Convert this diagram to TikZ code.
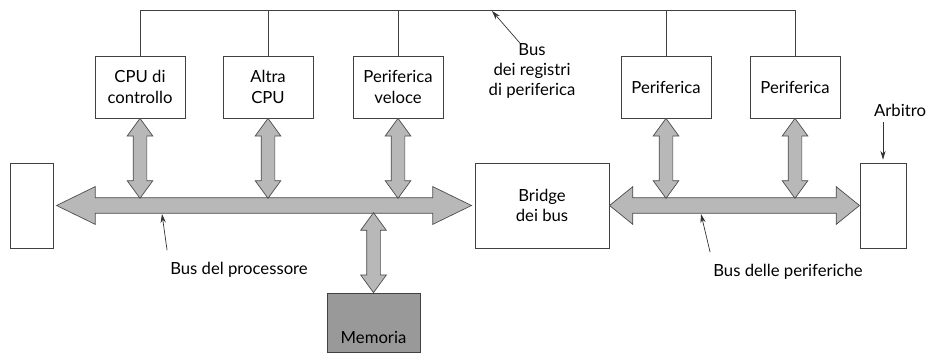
\documentclass[tikz,border=0pt]{standalone}
\usepackage{fontspec}
\setmainfont{Lato}
\usetikzlibrary{shapes.arrows,arrows.meta,calc}
\begin{document}
\begin{tikzpicture}[x=0.02cm, y=-0.02cm,
    font=\fontsize{9.5}{11.5}\selectfont,
    box/.style={draw=black!75, fill=white, minimum width=1.8cm, minimum height=1.24cm, align=center, inner sep=1pt},
    tall/.style={draw=black!75, minimum height=1.7cm},
    bus/.style={double arrow, draw=black!70, fill=black!28, inner sep=0pt, inner ysep=0.15cm, double arrow head extend=0.22cm},
    link/.style={double arrow, draw=black!70, fill=black!28, inner sep=0pt, inner ysep=0.13cm, double arrow head extend=0.12cm, double arrow tip angle=72, rotate=90, minimum height=1.6cm},
    pointer/.style={draw=black!80, thin, -{Stealth[length=5pt,width=3pt]}}]
    \useasboundingbox (0,0) rectangle (935,354);
    \node[box] (cpu) at (140,87) {CPU di\\controllo};
    \node[box] (altra) at (268,87) {Altra\\CPU};
    \node[box] (veloce) at (398,87) {Periferica\\veloce};
    \node[box] (per1) at (666,87) {Periferica};
    \node[box] (per2) at (795,87) {Periferica};
    \node[tall, minimum width=0.86cm] (left) at (31.5,205.5) {};
    \node[tall, minimum width=2.68cm, align=center] (bridge) at (542,205.5) {Bridge\\dei bus};
    \node[tall, minimum width=0.92cm] (arb) at (883,205.5) {};
    \node[draw=black!75, fill=black!40, minimum width=1.86cm, minimum height=1.18cm] (mem) at (373.5,322.5) {};
    \node (memtxt) at (373.5,337) {Memoria};
    \coordinate (top) at (0,10);
    \draw[black!75] (cpu.north) |- (top -| per2.north) -- (per2.north);
    \foreach \n in {altra,veloce,per1}
        \draw[black!75] (\n.north) -- (\n.north |- top);
    \node[bus, minimum height=8.3cm, double arrow tip angle=52] (pbus) at ($(left.east)!0.5!(bridge.west)$) {};
    \node[bus, minimum height=5cm, double arrow tip angle=78] (sbus) at ($(bridge.east)!0.5!(arb.west)$) {};
    \foreach \n in {cpu,altra,veloce,per1,per2}
        \node[link] (l-\n) at ($(\n.south)+(0,40)$) {};
    \node[link] (l-mem) at ($(mem.north)+(0,-40)$) {};
    \node[align=center] (lblreg) at (532,71) {Bus\\dei registri\\di periferica};
    \coordinate (preg) at (492,11);
    \draw[pointer] ($(lblreg.north)+(-12,6)$) -- (preg);
    \node (lblarb) at (900,110) {Arbitro};
    \draw[pointer] (lblarb.south -| arb.center) -- ($(arb.north)+(0,-3)$);
    \node (lblproc) at (239,270) {Bus del processore};
    \coordinate (pproc) at (162,214);
    \draw[pointer] ([shift={(3,-6)}]lblproc.north west) -- (pproc);
    \node (lblsbus) at (788,272) {Bus delle periferiche};
    \coordinate (psbus) at (701,214);
    \draw[pointer] ([shift={(3,-6)}]lblsbus.north west) -- (psbus);
\end{tikzpicture}
\end{document}
